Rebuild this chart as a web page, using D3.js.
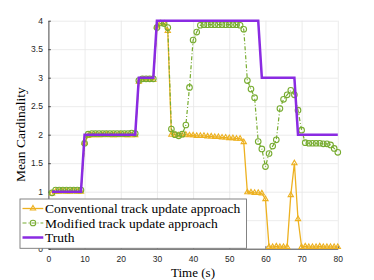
<!DOCTYPE html>
<html>
<head>
<meta charset="utf-8">
<script src="https://cdn.jsdelivr.net/npm/d3@7"></script>
<style>
  body { margin: 0; background: #fff; }
  .tick text { font-family: "Liberation Sans", Arial, sans-serif; font-size: 8.5px; fill: #262626; }
  .serif { font-family: "Liberation Serif", "Times New Roman", serif; fill: #000; }
</style>
</head>
<body>
<div id="chart"></div>
<script>
var svgWidth = 374;
var svgHeight = 280;

// time steps 1..80 s
var times = d3.range(1, 81);

var truth = [
  1, 1, 1, 1, 1, 1, 1, 1, 1,
  2, 2, 2, 2, 2, 2, 2, 2, 2, 2, 2, 2, 2, 2, 2,
  3, 3, 3, 3, 3,
  4, 4, 4, 4, 4, 4, 4, 4, 4, 4, 4, 4, 4, 4, 4, 4, 4, 4, 4, 4, 4, 4, 4, 4, 4, 4, 4, 4, 4,
  3, 3, 3, 3, 3, 3, 3, 3, 3, 3,
  2, 2, 2, 2, 2, 2, 2, 2, 2, 2, 2, 2
];

var conventional = [
  0.97, 1.00, 1.00, 1.01, 1.00, 1.00, 1.01, 1.00, 1.00,
  1.86, 1.98, 1.99, 1.99, 1.99, 1.99, 2.00, 1.99, 1.99, 1.99, 2.00, 1.99, 1.99, 1.99, 1.99,
  2.93, 2.96, 2.96, 2.96, 2.96,
  3.90, 3.95, 3.95, 3.82,
  2.00, 2.00, 1.99, 1.99, 2.00, 1.99, 1.99, 1.98, 1.98, 1.98,
  1.97, 1.97, 1.96, 1.96, 1.95, 1.95, 1.94, 1.94, 1.93, 1.93,
  1.87, 0.99, 0.99, 0.98, 0.98, 0.97, 0.87,
  0.03, 0.03, 0.04, 0.03, 0.03, 0.03,
  0.94, 1.50, 0.52,
  0.03, 0.04, 0.03, 0.03, 0.03, 0.04, 0.03, 0.03, 0.03, 0.03, 0.03
];

var modified = [
  0.98, 1.03, 1.03, 1.03, 1.03, 1.03, 1.03, 1.03, 1.03,
  1.85, 2.01, 2.02, 2.02, 2.02, 2.02, 2.02, 2.02, 2.02, 2.02, 2.02, 2.02, 2.02, 2.03, 2.02,
  2.95, 2.98, 2.98, 2.98, 2.98,
  3.88, 3.96, 3.95, 3.88,
  2.10, 2.00, 1.98, 2.01, 2.17, 2.83, 3.66, 3.80, 3.92,
  3.93, 3.93, 3.93, 3.93, 3.93, 3.93, 3.93, 3.93, 3.93, 3.93,
  3.92, 3.85, 2.95, 2.80, 2.65, 1.88, 1.75, 1.44, 1.67, 1.80, 1.91,
  2.46, 2.62, 2.70, 2.78, 2.70, 2.43, 2.08,
  1.86, 1.85, 1.85, 1.85, 1.85, 1.84, 1.84, 1.82, 1.76, 1.69
];

var xTicks = [0, 10, 20, 30, 40, 50, 60, 70, 80];
var yTicks = [0, 0.5, 1, 1.5, 2, 2.5, 3, 3.5, 4];

var legendLabels = ["Conventional track update approach", "Modified track update approach", "Truth"];

var colors = { conv: "#edb120", mod: "#77ac30", truth: "#8a2be2" };

var margin = { top: 20.7, right: 36.2, bottom: 31.3, left: 48.4 };
var width = svgWidth - margin.left - margin.right;
var height = svgHeight - margin.top - margin.bottom;

var svg = d3.select("#chart")
    .append("svg")
    .attr("width", svgWidth)
    .attr("height", svgHeight);

var chartGroup = svg.append("g")
    .attr("transform", `translate(${margin.left}, ${margin.top})`);

var x = d3.scaleLinear().domain([0, 80]).range([0, width]);
var y = d3.scaleLinear().domain([0, 4]).range([height, 0]);

// grid
chartGroup.append("g")
    .attr("transform", `translate(0, ${height})`)
    .call(d3.axisBottom(x).tickValues(xTicks).tickSize(-height).tickFormat(""))
    .call(g => g.select(".domain").remove())
    .call(g => g.selectAll("line").attr("stroke", "#e6e6e6").attr("stroke-width", 0.8));

chartGroup.append("g")
    .call(d3.axisLeft(y).tickValues(yTicks).tickSize(-width).tickFormat(""))
    .call(g => g.select(".domain").remove())
    .call(g => g.selectAll("line").attr("stroke", "#e6e6e6").attr("stroke-width", 0.8));

// axes
var xAxis = d3.axisBottom(x).tickValues(xTicks).tickFormat(d3.format("~g"))
    .tickSizeInner(-2.5).tickSizeOuter(0).tickPadding(7);
var yAxis = d3.axisLeft(y).tickValues(yTicks).tickFormat(d3.format("~g"))
    .tickSizeInner(-2.5).tickSizeOuter(0).tickPadding(5.5);

chartGroup.append("g")
    .attr("transform", `translate(0, ${height})`)
    .call(xAxis)
    .call(g => g.selectAll("line, path").attr("stroke", "#262626").attr("stroke-width", 0.8));

chartGroup.append("g")
    .call(yAxis)
    .call(g => g.selectAll("line, path").attr("stroke", "#262626").attr("stroke-width", 0.8));

// series
var line = d3.line()
    .x((d, i) => x(times[i]))
    .y(d => y(d));

var triangle = d3.symbol().type(d3.symbolTriangle).size(12);

chartGroup.append("path")
    .datum(conventional)
    .attr("d", line)
    .attr("fill", "none")
    .attr("stroke", colors.conv)
    .attr("stroke-width", 1.3);

chartGroup.selectAll(".tri")
    .data(conventional)
    .enter()
    .append("path")
    .attr("class", "tri")
    .attr("d", triangle)
    .attr("transform", (d, i) => `translate(${x(times[i])}, ${y(d)})`)
    .attr("fill", "none")
    .attr("stroke", colors.conv)
    .attr("stroke-width", 1.1);

chartGroup.append("path")
    .datum(modified)
    .attr("d", line)
    .attr("fill", "none")
    .attr("stroke", colors.mod)
    .attr("stroke-width", 1.2)
    .attr("stroke-dasharray", "4,2,1,2");

chartGroup.selectAll(".circ")
    .data(modified)
    .enter()
    .append("circle")
    .attr("class", "circ")
    .attr("cx", (d, i) => x(times[i]))
    .attr("cy", d => y(d))
    .attr("r", 2.8)
    .attr("fill", "none")
    .attr("stroke", colors.mod)
    .attr("stroke-width", 1.1);

chartGroup.append("path")
    .datum(truth)
    .attr("d", line)
    .attr("fill", "none")
    .attr("stroke", colors.truth)
    .attr("stroke-width", 2.5);

// axis labels
svg.append("text")
    .attr("class", "serif")
    .attr("transform", `translate(25, ${margin.top + height / 2}) rotate(-90)`)
    .attr("text-anchor", "middle")
    .attr("font-size", "13.5px")
    .text("Mean Cardinality");

svg.append("text")
    .attr("class", "serif")
    .attr("x", 193)
    .attr("y", 276.5)
    .attr("text-anchor", "middle")
    .attr("font-size", "13px")
    .text("Time (s)");

// legend
var legend = svg.append("g");

legend.append("rect")
    .attr("x", 20)
    .attr("y", 199)
    .attr("width", 226.5)
    .attr("height", 49.3)
    .attr("fill", "#fff")
    .attr("stroke", "#777")
    .attr("stroke-width", 0.9);

var rowY = [208.5, 223, 237.5];

legend.append("line")
    .attr("x1", 22.5).attr("x2", 43.3).attr("y1", rowY[0]).attr("y2", rowY[0])
    .attr("stroke", colors.conv).attr("stroke-width", 1.3);
legend.append("path")
    .attr("d", triangle)
    .attr("transform", `translate(33, ${rowY[0]})`)
    .attr("fill", "none").attr("stroke", colors.conv).attr("stroke-width", 1.1);

legend.append("line")
    .attr("x1", 22.5).attr("x2", 43.3).attr("y1", rowY[1]).attr("y2", rowY[1])
    .attr("stroke", colors.mod).attr("stroke-width", 1.2)
    .attr("stroke-dasharray", "4,2,1,2");
legend.append("circle")
    .attr("cx", 33).attr("cy", rowY[1]).attr("r", 2.8)
    .attr("fill", "none").attr("stroke", colors.mod).attr("stroke-width", 1.1);

legend.append("line")
    .attr("x1", 22.5).attr("x2", 43.3).attr("y1", rowY[2]).attr("y2", rowY[2])
    .attr("stroke", colors.truth).attr("stroke-width", 2.5);

legend.selectAll(".lab")
    .data(legendLabels)
    .enter()
    .append("text")
    .attr("class", "serif lab")
    .attr("x", 45)
    .attr("y", (d, i) => rowY[i] + 4.5)
    .attr("font-size", "13.5px")
    .text(d => d);
</script>
</body>
</html>
